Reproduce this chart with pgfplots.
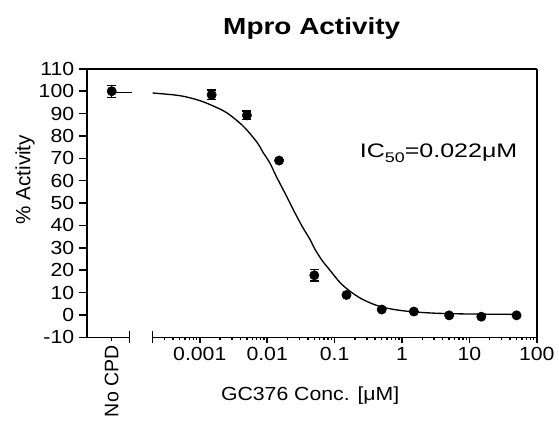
\documentclass[border=0pt]{standalone}
\usepackage{fontspec}
\setmainfont{Liberation Sans}[FakeStretch=1.12]
\newfontfamily\rotfont{Liberation Sans}
\newfontfamily\titlefont{Liberation Sans}[FakeStretch=1.2]
\newfontfamily\icfont{Liberation Sans}[FakeStretch=1.28]
\usepackage{pgfplots}
\pgfplotsset{compat=1.18}

\begin{document}
\begin{tikzpicture}
\pgfplotsset{
  prism/.style={
    scale only axis,
    height=201.75pt,
    ymin=-10, ymax=110,
    font=\fontsize{14.25}{17}\selectfont,
    axis line style={line width=1.1pt},
    tick style={black, line width=1.1pt},
    tick align=outside,
    clip=false,
  }
}
% left segment: control without compound
\begin{axis}[prism, name=L, width=32.25pt,
  xmin=0, xmax=1,
  axis x line*=bottom, axis y line*=left,
  major tick length=2.5pt,
  xtick={0.58}, xticklabels={No CPD},
  x tick label style={rotate=90, anchor=east, font=\rotfont\fontsize{14.7}{17}\selectfont},
  ytick=\empty,
  extra y ticks={-10,0,10,20,30,40,50,60,70,80,90,100,110},
  extra y tick labels={-10,0,10,20,30,40,50,60,70,80,90,100,110},
  extra y tick style={major tick length=6pt},
  ylabel={\% Activity},
  ylabel style={at={(axis description cs:-1.44,0.587)}, anchor=center,
    font=\rotfont\fontsize{15.5}{18}\selectfont},
]
\addplot[black, line width=1pt] coordinates {(0.58,99.3) (1.05,99.3)};
\addplot[black, only marks, mark=*, mark size=3.5pt,
  error bars/.cd, y dir=both, y explicit,
  error bar style={line width=1pt},
  error mark options={rotate=90, mark size=3.4pt, line width=1pt}]
  coordinates {(0.58,100) +- (0,2.7)};
\end{axis}

% right segment: GC376 dilution series
\begin{axis}[prism, name=R, width=288.75pt,
  at={(49.5pt,0)}, anchor=south west,
  xmode=log, xmin=0.0002, xmax=100,
  axis x line*=bottom, axis y line*=right,
  ytick=\empty,
  major tick length=4pt, minor tick length=2.2pt,
  xtick={0.001,0.01,0.1,1,10,100},
  xticklabels={0.001,0.01,0.1,1,10,100},
  minor xtick={0.0002,0.0003,0.0004,0.0005,0.0006,0.0007,0.0008,0.0009,
    0.002,0.003,0.004,0.005,0.006,0.007,0.008,0.009,
    0.02,0.03,0.04,0.05,0.06,0.07,0.08,0.09,
    0.2,0.3,0.4,0.5,0.6,0.7,0.8,0.9,
    2,3,4,5,6,7,8,9,20,30,40,50,60,70,80,90},
  xlabel={GC376 Conc. [μM]},
  xlabel style={at={(axis description cs:0.410,-0.218)}, anchor=center},
]
\addplot[black, line width=1pt, smooth] coordinates {
  (0.0002,99.2) (0.0004,98.4) (0.0006,97.6) (0.001,95.8) (0.0015,93.7)
  (0.0025,90.4) (0.0044,84.4) (0.007,77.3) (0.0087,72.6) (0.011,67.8)
  (0.0137,61.8) (0.0192,53.3) (0.024,47.4) (0.033,39.6) (0.043,33.8)
  (0.051,29.4) (0.065,24.4) (0.084,20.2) (0.12,14.5) (0.167,10.7)
  (0.25,7.2) (0.415,4.3) (0.7,2.6) (1.3,1.5) (2.5,0.9) (4.5,0.6)
  (10,0.4) (25,0.3) (55,0.3)};
\addplot[black, only marks, mark=*, mark size=3.5pt,
  error bars/.cd, y dir=both, y explicit,
  error bar style={line width=1pt},
  error mark options={rotate=90, mark size=3.4pt, line width=1pt}]
  coordinates {
  (0.0015,98.4) +- (0,2.1)
  (0.005,89.2) +- (0,1.9)
  (0.015,69.0) +- (0,0.5)
  (0.05,17.7) +- (0,2.5)
  (0.15,8.9) +- (0,0.5)
  (0.5,2.4) +- (0,0.5)
  (1.5,1.5) +- (0,0.5)
  (5,-0.2) +- (0,0.5)
  (15,-0.8) +- (0,0.5)
  (50,-0.2) +- (0,0.5)};
\node[anchor=base west, font=\icfont\fontsize{14.7}{17}\selectfont]
  at (axis description cs:0.527,0.668)
  {IC{\fontsize{10.5}{12}\selectfont\raisebox{-3.75pt}{50}}=0.022μM};
\node[anchor=center, font=\titlefont\fontsize{17.5}{21}\selectfont\bfseries]
  at (axis description cs:0.414,1.152) {Mpro Activity};
\end{axis}

% frame top and axis break marks
\draw[line width=1.1pt] (L.north west) -- (R.north east);
\draw[line width=1.1pt] ([yshift=-4.5pt]L.south east) -- ([yshift=4.5pt]L.south east);
\draw[line width=1.1pt] ([yshift=-4.5pt]R.south west) -- ([yshift=4.5pt]R.south west);
\path (L.south west) ++(-65.25pt,-60.75pt) rectangle ++(419.25pt,314.25pt);
\end{tikzpicture}
\end{document}
